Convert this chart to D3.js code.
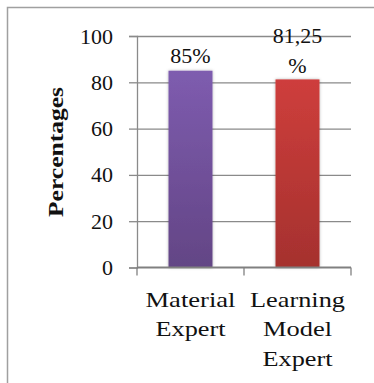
<!DOCTYPE html>
<html><head><meta charset="utf-8">
<script src="https://cdn.jsdelivr.net/npm/d3@7"></script>
<style>html,body{margin:0;padding:0;background:#fff;}svg{display:block;} svg text{font-family:"Liberation Serif","Times New Roman",serif !important;}</style>
</head><body>
<svg id="c" width="374" height="383"></svg>
<script>
const categories = [["Material","Expert"],["Learning","Model","Expert"]];
const values = [85, 81.25];
const valueLabels = [["85%"],["81,25","%"]];
const colorsTop = ["#7E5CAF","#CE3E3C"];
const colorsBottom = ["#634585","#A5312E"];
const yTicks = [0,20,40,60,80,100];
const yTitle = "Percentages";

const svg = d3.select("#c");
const x = d3.scaleBand().domain(d3.range(values.length)).range([137,351]).paddingInner(0.589).paddingOuter(0.2945);
const y = d3.scaleLinear().domain([0,100]).range([267.5,36]);

const defs = svg.append("defs");
values.forEach((v,i)=>{
  const g = defs.append("linearGradient").attr("id","g"+i).attr("x1",0).attr("x2",0).attr("y1",0).attr("y2",1);
  g.append("stop").attr("offset","0%").attr("stop-color",colorsTop[i]);
  g.append("stop").attr("offset","100%").attr("stop-color",colorsBottom[i]);
});
const f = defs.append("filter").attr("id","sh").attr("x","-20%").attr("y","-10%").attr("width","140%").attr("height","120%");
f.append("feDropShadow").attr("dx",0).attr("dy",0).attr("stdDeviation",1.6).attr("flood-color","#000").attr("flood-opacity",0.3);

// frame
svg.append("path").attr("d","M7.5,400V7.5H400").attr("fill","none").attr("stroke","#a0a0a0").attr("stroke-width",1.5);

// gridlines + y axis
const yAxis = d3.axisLeft(y).tickValues(yTicks).tickSize(8).tickPadding(16).tickFormat(d3.format("d"));
const ya = svg.append("g").attr("transform","translate(137,0)").call(yAxis).attr("font-family",null);
ya.select(".domain").attr("stroke","#8a8a8a").attr("stroke-width",1.3);
ya.selectAll(".tick line").attr("stroke","#8a8a8a").attr("stroke-width",1.3);
ya.selectAll(".tick text").style("font-size","22px").attr("fill","#111").attr("dy","0.32em");
ya.selectAll(".tick").filter(d=>d>0).append("line").attr("x1",0).attr("x2",214).attr("stroke","#8a8a8a").attr("stroke-width",1.3);

// bars
svg.append("g").selectAll("rect").data(values).join("rect")
  .attr("x",(d,i)=>x(i)).attr("width",x.bandwidth())
  .attr("y",d=>y(d)).attr("height",d=>y(0)-y(d))
  .attr("fill",(d,i)=>"url(#g"+i+")").attr("filter","url(#sh)");

// x axis
const xa = svg.append("g");
xa.append("line").attr("x1",137).attr("x2",351).attr("y1",y(0)).attr("y2",y(0)).attr("stroke","#808080").attr("stroke-width",2);
const xt = [137].concat(values.map((d,i)=>x(i)+x.bandwidth()/2+x.step()/2));
xa.selectAll("line.t").data(xt).join("line").attr("class","t")
  .attr("x1",d=>d).attr("x2",d=>d).attr("y1",y(0)).attr("y2",y(0)+8).attr("stroke","#808080").attr("stroke-width",1.3);

// category labels
const catW = [[90,70],[95,69,70]];
categories.forEach((lines,i)=>{
  lines.forEach((t,j)=>{
    svg.append("text").attr("x",x(i)+x.bandwidth()/2).attr("y",307+j*29.3)
      .attr("text-anchor","middle").style("font-size","22px").attr("fill","#111")
      .attr("textLength",catW[i][j]).attr("lengthAdjust","spacingAndGlyphs").text(t);
  });
});

// value labels
valueLabels.forEach((lines,i)=>{
  const cx = x(i)+x.bandwidth()/2;
  const base = lines.length===1 ? y(values[i])-8 : y(values[i])-36;
  lines.forEach((t,j)=>{
    svg.append("text").attr("x",cx).attr("y",base+j*29.5)
      .attr("text-anchor","middle").style("font-size","22px").attr("fill","#111").text(t);
  });
});

// y title
svg.append("text").attr("transform","translate(63,152) rotate(-90)")
  .attr("text-anchor","middle").style("font-size","21px").style("font-weight","bold")
  .attr("fill","#111").attr("textLength",130).attr("lengthAdjust","spacingAndGlyphs").text(yTitle);
</script>
</body></html>
